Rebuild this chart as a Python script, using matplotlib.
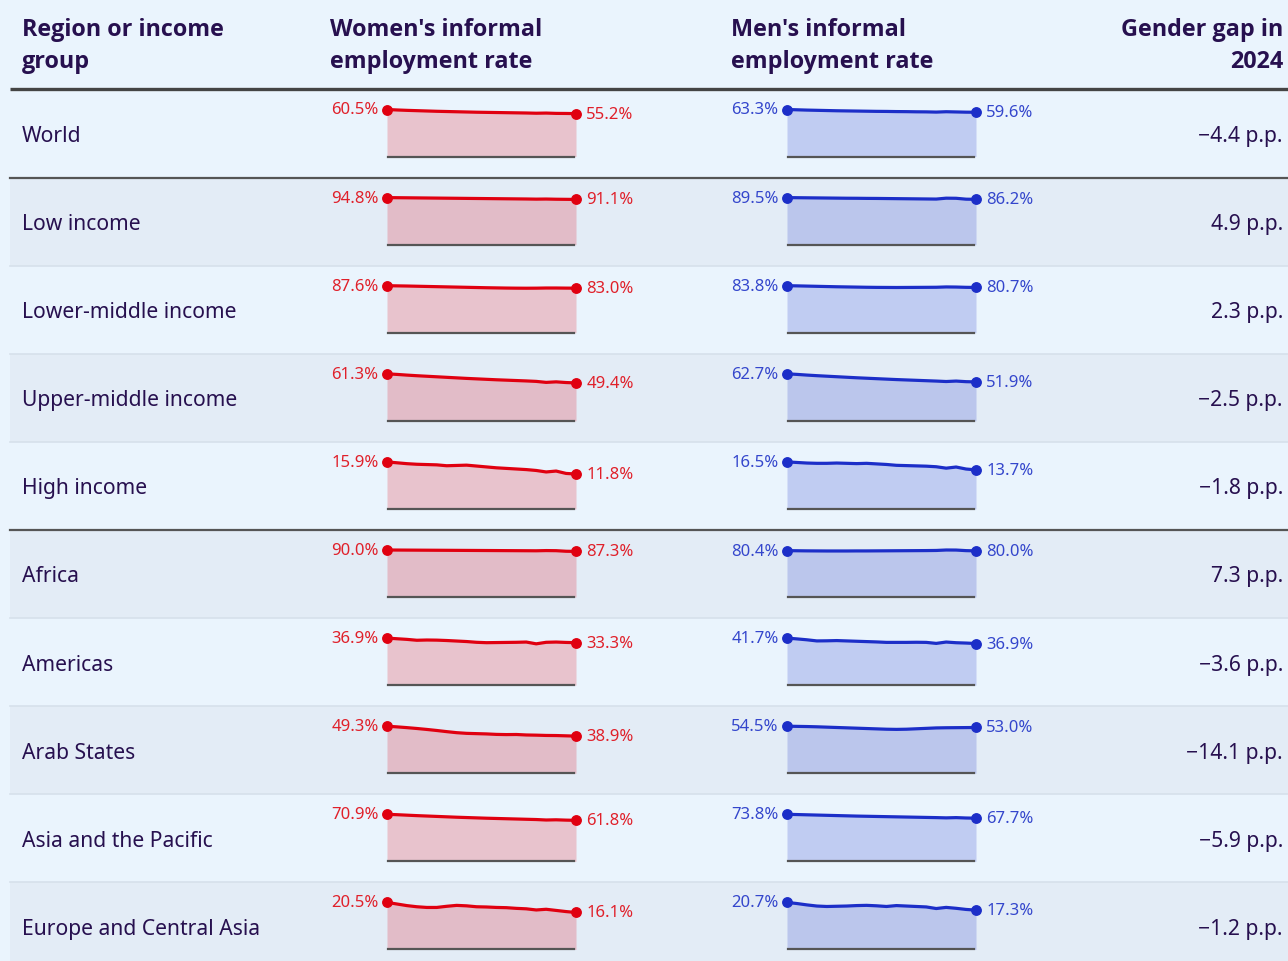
"""Informal employment rates by region, women vs men, as a sparkline table."""
import matplotlib
matplotlib.use("Agg")
import matplotlib.pyplot as plt
from matplotlib import font_manager
from matplotlib.patches import Rectangle

plt.rcParams['font.family'] = ['Noto Sans', 'DejaVu Sans']

years = list(range(2005, 2025))

regions = ["World", "Low income", "Lower-middle income", "Upper-middle income",
           "High income", "Africa", "Americas", "Arab States",
           "Asia and the Pacific", "Europe and Central Asia"]

women = [
    [60.5, 59.9, 59.4, 59.0, 58.6, 58.2, 57.9, 57.6, 57.3, 57.0, 56.8, 56.6, 56.4, 56.2, 56.0, 55.7, 55.9, 55.5, 55.4, 55.2],
    [94.8, 94.6, 94.4, 94.2, 94.0, 93.8, 93.6, 93.4, 93.2, 93.0, 92.8, 92.6, 92.4, 92.2, 92.0, 91.7, 91.9, 91.5, 91.3, 91.1],
    [87.6, 87.3, 87.0, 86.6, 86.2, 85.8, 85.4, 85.0, 84.6, 84.2, 83.8, 83.5, 83.2, 83.0, 82.9, 83.0, 83.3, 83.3, 83.1, 83.0],
    [61.3, 60.5, 59.6, 58.8, 58.1, 57.4, 56.7, 56.0, 55.3, 54.7, 54.1, 53.5, 53.0, 52.5, 52.0, 51.4, 50.1, 50.8, 49.9, 49.4],
    [15.9, 15.6, 15.3, 15.1, 15.0, 14.9, 14.6, 14.7, 14.8, 14.5, 14.2, 13.9, 13.7, 13.5, 13.3, 13.0, 12.5, 12.8, 12.0, 11.8],
    [90.0, 89.9, 89.8, 89.7, 89.6, 89.5, 89.4, 89.3, 89.2, 89.1, 89.0, 88.9, 88.8, 88.7, 88.6, 88.5, 88.9, 88.7, 87.6, 87.3],
    [36.9, 36.4, 35.9, 35.2, 35.4, 35.3, 35.0, 34.6, 34.2, 33.6, 33.3, 33.4, 33.5, 33.6, 33.8, 32.4, 33.6, 33.8, 33.5, 33.3],
    [49.3, 48.6, 47.8, 46.9, 45.9, 44.8, 43.6, 42.5, 41.8, 41.5, 41.2, 40.7, 40.5, 40.6, 40.1, 39.9, 39.6, 39.5, 39.2, 38.9],
    [70.9, 70.3, 69.6, 68.9, 68.3, 67.7, 67.1, 66.5, 66.0, 65.5, 65.0, 64.6, 64.2, 63.8, 63.4, 63.0, 62.3, 62.6, 62.1, 61.8],
    [20.5, 19.8, 19.1, 18.6, 18.3, 18.3, 18.8, 19.2, 19.0, 18.6, 18.5, 18.3, 18.2, 17.9, 17.7, 17.2, 17.5, 17.0, 16.5, 16.1],
]

men = [
    [63.3, 62.9, 62.5, 62.2, 61.9, 61.6, 61.4, 61.2, 61.0, 60.8, 60.7, 60.5, 60.4, 60.2, 60.1, 59.8, 60.3, 60.0, 59.7, 59.6],
    [89.5, 89.3, 89.1, 88.9, 88.7, 88.5, 88.3, 88.2, 88.0, 87.9, 87.7, 87.5, 87.3, 87.1, 86.9, 86.7, 88.4, 88.2, 86.5, 86.2],
    [83.8, 83.5, 83.1, 82.7, 82.3, 81.9, 81.6, 81.3, 81.0, 80.8, 80.7, 80.6, 80.7, 80.8, 80.9, 81.0, 81.6, 81.4, 80.9, 80.7],
    [62.7, 61.9, 61.0, 60.2, 59.5, 58.8, 58.1, 57.4, 56.8, 56.2, 55.6, 55.0, 54.5, 54.0, 53.5, 53.0, 52.4, 53.0, 52.2, 51.9],
    [16.5, 16.3, 16.1, 16.0, 16.0, 16.1, 16.0, 15.9, 16.0, 15.8, 15.6, 15.3, 15.2, 15.1, 15.0, 14.8, 14.3, 14.7, 14.0, 13.7],
    [80.4, 80.2, 80.0, 79.9, 79.8, 79.8, 79.8, 79.9, 79.9, 80.0, 80.1, 80.2, 80.3, 80.4, 80.5, 80.7, 81.5, 81.4, 80.4, 80.0],
    [41.7, 41.0, 40.2, 39.2, 39.3, 39.5, 39.2, 38.9, 38.6, 38.3, 37.9, 37.9, 37.9, 38.0, 37.9, 37.0, 38.2, 37.6, 37.3, 36.9],
    [54.5, 54.3, 54.1, 53.8, 53.4, 53.0, 52.6, 52.2, 51.8, 51.4, 51.0, 50.8, 51.0, 51.5, 52.0, 52.5, 52.7, 52.8, 52.9, 53.0],
    [73.8, 73.4, 73.0, 72.6, 72.2, 71.8, 71.4, 71.0, 70.7, 70.4, 70.1, 69.8, 69.5, 69.2, 68.9, 68.6, 68.2, 68.6, 68.0, 67.7],
    [20.7, 20.2, 19.6, 19.1, 18.9, 19.0, 19.1, 19.3, 19.4, 19.2, 18.9, 19.3, 19.1, 18.9, 18.7, 18.0, 18.5, 18.1, 17.6, 17.3],
]

gap_labels = ["−4.4 p.p.", "4.9 p.p.", "2.3 p.p.", "−2.5 p.p.", "−1.8 p.p.",
              "7.3 p.p.", "−3.6 p.p.", "−14.1 p.p.", "−5.9 p.p.", "−1.2 p.p."]

W, H = 1288, 962
TEXT = "#27104f"
BG_LIGHT = "#eaf4fd"
BG_DARK = "#e3ecf6"
RED, RED_TXT = "#e00010", "#e0202a"
BLUE, BLUE_TXT = "#1c2ec8", "#3446cc"

ROW_TOP = 90.5
ROW_H = 88.1
THICK_AFTER = {0, 4}


def pick_bold_font():
    # prefer a real 700 face of Noto Sans, fall back to semibold or other families
    faces = [f for f in font_manager.fontManager.ttflist if "italic" not in f.style]
    for wanted in ((700, "bold"), (600, "semibold", "demibold")):
        for fam in ["Noto Sans", "Open Sans", "Lato", "Roboto", "Inter"]:
            for f in faces:
                if f.name == fam and f.weight in wanted:
                    return font_manager.FontProperties(fname=f.fname, size=16.8)
    return font_manager.FontProperties(family="DejaVu Sans", weight="bold", size=16.8)


HEAD_FONT = pick_bold_font()

fig = plt.figure(figsize=(W / 100, H / 100), dpi=100)
fig.patch.set_facecolor(BG_LIGHT)
bg = fig.add_axes([0, 0, 1, 1])
bg.set_xlim(0, W)
bg.set_ylim(H, 0)
bg.axis("off")

# header
hdr = dict(fontproperties=HEAD_FONT, color=TEXT, va="center")
bg.text(22, 30, "Region or income", **hdr)
bg.text(22, 62, "group", **hdr)
bg.text(330, 30, "Women's informal", **hdr)
bg.text(330, 62, "employment rate", **hdr)
bg.text(731, 30, "Men's informal", **hdr)
bg.text(731, 62, "employment rate", **hdr)
bg.text(1283, 30, "Gender gap in", ha="right", **hdr)
bg.text(1283, 62, "2024", ha="right", **hdr)
bg.plot([10, W], [89.5, 89.5], color="#444444", lw=2.4, solid_capstyle="butt")


def sparkline(x0, top, series, line_col, txt_col):
    x1, bottom = x0 + 189, top + 47
    ax = fig.add_axes([x0 / W, 1 - bottom / H, (x1 - x0) / W, (bottom - top) / H])
    ax.set_xlim(years[0], years[-1])
    ax.set_ylim(0, max(series))
    ax.axis("off")
    ax.fill_between(years, series, 0, color=line_col, alpha=0.2, lw=0)
    ax.plot(years, series, color=line_col, lw=2.3, solid_capstyle="round", clip_on=False)
    ax.plot([years[0], years[-1]], [series[0], series[-1]], "o", color=line_col,
            ms=6.8, clip_on=False)
    ax.plot([years[0] + 0.1, years[-1] - 0.2], [0, 0], color="#555555", lw=1.6,
            clip_on=False)
    ax.annotate(f"{series[0]:.1f}%", (years[0], series[0]), xytext=(-6, 0),
                textcoords="offset points", ha="right", va="center",
                fontsize=12, color=txt_col)
    ax.annotate(f"{series[-1]:.1f}%", (years[-1], series[-1]), xytext=(7.5, 0),
                textcoords="offset points", ha="left", va="center",
                fontsize=12, color=txt_col)


for i, name in enumerate(regions):
    top = ROW_TOP + i * ROW_H
    shade = BG_DARK if i % 2 else BG_LIGHT
    bg.add_patch(Rectangle((10, top), W - 10, ROW_H, facecolor=shade, lw=0))
    bottom = top + ROW_H
    if i in THICK_AFTER:
        bg.plot([10, W], [bottom, bottom], color="#555555", lw=1.6)
    elif i < len(regions) - 1:
        bg.plot([10, W], [bottom, bottom], color="#d6e0eb", lw=1.2)
    mid = top + 46
    bg.text(22, mid, name, fontsize=15.2, color=TEXT, va="center")
    bg.text(1283, mid, gap_labels[i], fontsize=15.2, color=TEXT, va="center", ha="right")
    sparkline(387, top + 20, women[i], RED, RED_TXT)
    sparkline(787, top + 20, men[i], BLUE, BLUE_TXT)

fig.savefig("out.png", dpi=100, facecolor=fig.get_facecolor())
